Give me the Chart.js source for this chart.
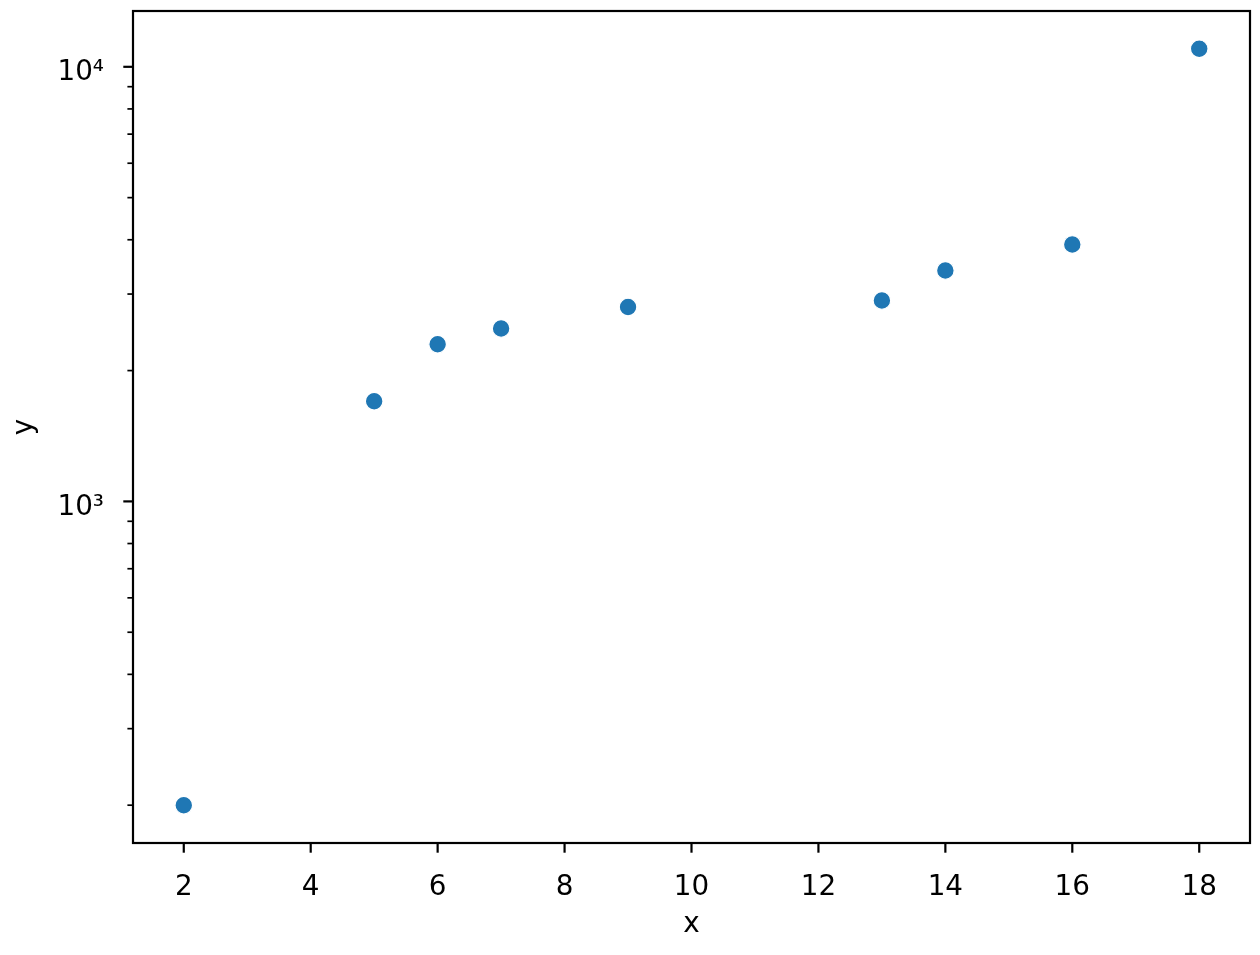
<!DOCTYPE html>
<html><head><meta charset="utf-8">
<script src="https://cdn.jsdelivr.net/npm/chart.js@4/dist/chart.umd.min.js"></script>
<style>html,body{margin:0;padding:0;background:#fff}</style>
</head><body>
<canvas id="c" width="1260" height="955"></canvas>
<script>
const xValues = [2, 5, 6, 7, 9, 13, 14, 16, 18];
const yValues = [200, 1700, 2300, 2500, 2800, 2900, 3400, 3900, 11000];
const xTicks = [2, 4, 6, 8, 10, 12, 14, 16, 18];
const yMajorTicks = [1000, 10000];
const yMinorTicks = [200, 300, 400, 500, 600, 700, 800, 900, 2000, 3000, 4000, 5000, 6000, 7000, 8000, 9000];
const yTickLabels = {1000: '10³', 10000: '10⁴'};
const xLabel = 'x';
const yLabel = 'y';

function linMargin(a){const mn=Math.min(...a),mx=Math.max(...a),d=(mx-mn)*0.05;return [mn-d,mx+d];}
function logMargin(a){const mn=Math.log10(Math.min(...a)),mx=Math.log10(Math.max(...a)),d=(mx-mn)*0.05;return [Math.pow(10,mn-d),Math.pow(10,mx+d)];}
const [xMin, xMax] = linMargin(xValues);
const [yMin, yMax] = logMargin(yValues);

const FS = 27.8;
Chart.defaults.font.family = "'DejaVu Sans', sans-serif";
Chart.defaults.font.size = FS;
Chart.defaults.color = '#000';

const framePlugin = {
  id: 'frame',
  afterDraw(chart) {
    const {ctx, chartArea: a, scales: {x, y}} = chart;
    ctx.save();
    ctx.strokeStyle = '#000';
    ctx.lineCap = 'butt';
    const line = (x1, y1, x2, y2) => { ctx.beginPath(); ctx.moveTo(x1, y1); ctx.lineTo(x2, y2); ctx.stroke(); };
    ctx.lineWidth = 2.2;
    xTicks.forEach(v => { const p = x.getPixelForValue(v); line(p, a.bottom, p, a.bottom + 9.7); });
    yMajorTicks.forEach(v => { const p = y.getPixelForValue(v); line(a.left - 9.7, p, a.left, p); });
    ctx.lineWidth = 1.7;
    yMinorTicks.forEach(v => { const p = y.getPixelForValue(v); line(a.left - 5.6, p, a.left, p); });
    ctx.lineWidth = 2.2;
    ctx.lineJoin = 'miter';
    ctx.strokeRect(a.left, a.top, a.right - a.left, a.bottom - a.top);
    ctx.restore();
  }
};

new Chart(document.getElementById('c'), {
  type: 'scatter',
  data: {
    datasets: [{
      data: xValues.map((v, i) => ({x: v, y: yValues[i]})),
      backgroundColor: '#1f77b4',
      borderColor: '#ffffff',
      borderWidth: 1.2,
      pointRadius: 8.8,
      pointHoverRadius: 8.8
    }]
  },
  options: {
    responsive: false,
    devicePixelRatio: 1,
    animation: false,
    events: [],
    layout: {padding: {top: 11, right: 10, left: 0, bottom: 0}},
    plugins: {legend: {display: false}, tooltip: {enabled: false}},
    scales: {
      x: {
        type: 'linear', min: xMin, max: xMax,
        grid: {display: false}, border: {display: false},
        afterBuildTicks: s => { s.ticks = xTicks.map(v => ({value: v})); },
        afterFit: s => { s.height = 112; s.paddingLeft = 0; s.paddingRight = 0; },
        ticks: {autoSkip: false, maxRotation: 0, padding: 20, callback: v => String(v)},
        title: {display: true, text: xLabel, padding: {top: 0, bottom: 14}}
      },
      y: {
        type: 'logarithmic', min: yMin, max: yMax,
        grid: {display: false}, border: {display: false},
        afterBuildTicks: s => { s.ticks = [...yMinorTicks, ...yMajorTicks].sort((a, b) => a - b).map(v => ({value: v})); },
        afterFit: s => { s.width = 133; s.paddingTop = 0; s.paddingBottom = 0; },
        ticks: {autoSkip: false, padding: 21, labelOffset: 6, callback: v => yTickLabels[v] || ''},
        title: {display: true, text: yLabel, padding: {top: 8, bottom: 0}}
      }
    }
  },
  plugins: [framePlugin]
});
</script>
</body></html>
